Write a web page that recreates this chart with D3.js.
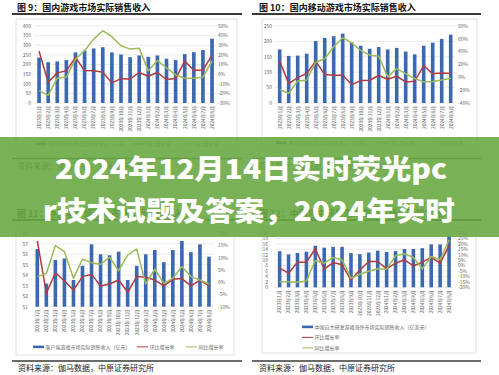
<!DOCTYPE html>
<html>
<head>
<meta charset="utf-8">
<script src="https://cdn.jsdelivr.net/npm/d3@7"></script>
<style>
  body { margin: 0; background: #fff; }
  svg { display: block; }
  text { font-family: "Noto Sans CJK SC", "Noto Sans", sans-serif; }
</style>
</head>
<body>
<svg id="chart" width="499" height="375"></svg>
<script>
// months on the x axis (same in all four charts)
const months = ["2023年1月","2023年2月","2023年3月","2023年4月","2023年5月","2023年6月","2023年7月","2023年8月","2023年9月","2023年10月",
  "2023年11月","2023年12月","2024年1月","2024年2月","2024年3月","2024年4月","2024年5月","2024年6月","2024年7月","2024年8月"];

// fig 9: domestic game market
const gameRev = [236,212,216,223,263,273,283,290,263,252,238,247,240,247,230,223,254,264,275,334];
const gameMoM = [23.9,-8.5,1.3,3.4,17.3,3.7,3.4,2.0,-9.1,-4.6,-5.3,1.7,-2.2,1.7,-5.7,-4.6,13.5,4.1,4.1,19.7];
const gameYoY = [-17.1,-22.0,-3.9,-3.2,15.6,24.3,36.4,45.1,38.9,29.5,26.0,27.0,3.4,14.2,6.5,-0.8,-4.3,-4.3,-3.2,13.5];
const gameTicksL = [0,50,100,150,200,250,300,350,400];
const gameTicksR = [-30,-20,-10,0,10,20,30,40,50];

// fig 10: mobile game market
const mobileRev = [174,153,154,160,201,211,217,225,197,186,176,182,174,179,167,158,186,196,208,222];
const mobileMoM = [25.2,-9.8,-0.4,5.9,25.2,4.3,3.3,3.3,-11.3,-5.1,-4.5,2.8,-3.0,1.7,-7.1,-6.1,18.4,5.4,6.9,5.9];
const mobileYoY = [-19.1,-24.7,-5.6,-4.5,23.6,28.9,47.6,61.8,53.8,41.9,34.6,33.0,0.7,13.7,5.9,-1.9,-7.1,-6.6,-4.0,-1.4];
const mobileTicksL = [0,50,100,150,200,250];
const mobileTicksR = [-40,-20,0,20,40,60,80];

// fig 11: client (PC) game market
const pcRev = [56.5,53.2,55.45,55.6,53.55,54.9,56.95,56.0,55.9,56.25,53.55,54.9,56.0,56.4,55.25,56.4,57.27,56.2,56.95,55.77];
const pcMoM = [16.9,-4.5,3.9,0.5,-3.2,2.3,3.2,-1.5,-0.7,0.9,-4.1,2.3,2.0,0.9,-1.5,1.2,1.5,-1.5,0.9,-1.5];
const pcYoY = [2.3,3.6,15.0,12.5,1.6,9.4,8.0,7.3,10.2,4.7,11.1,13.6,-0.7,5.3,-0.5,1.6,6.4,2.3,0.9,-0.7];
const pcTicksL = [51,52,53,54,55,56,57,58];
const pcTicksR = [-10,-5,0,5,10,15,20];

// fig 12: self-developed games overseas
const overseasRev = [13.3,12.1,12.6,13.1,15.3,14.6,14.9,14.9,12.6,12.2,12.8,13.5,13.0,13.3,14.1,14.1,14.4,15.8,15.8,19.0];
const overseasMoM = [-2.4,-7.0,3.1,3.1,15.5,-3.3,2.8,0.7,-13.2,-4.0,3.8,3.8,-3.0,2.2,5.3,-0.2,3.1,7.5,2.2,18.3];
const overseasYoY = [-14.8,-14.8,-15.4,-14.2,4.7,2.2,7.5,5.3,-11.7,-8.0,-5.2,-3.0,-3.3,9.0,10.9,7.5,-3.0,8.4,5.3,23.8];
const overseasTicksL = [0,2,4,6,8,10,12,14,16,18,20];
const overseasTicksR = [-20,-15,-10,-5,0,5,10,15,20,25,30];

const source = "资料来源：伽马数据，中原证券研究所";
const bannerLines = ["2024年12月14日实时荧光pc", "r技术试题及答案，2024年实时"];

const BLUE = "#3b68b1", RED = "#b23a3f", GREEN = "#9cbb58";

const svg = d3.select("#chart");

function pct(d) { return d + "%"; }

function drawPanel(p) {
  const g = svg.append("g");

  // figure title + underline
  g.append("text").attr("x", p.titleX).attr("y", p.titleY)
    .attr("font-size", 9).attr("font-weight", 700).attr("fill", "#111")
    .text(p.title);
  g.append("line").attr("x1", p.ruleX[0]).attr("x2", p.ruleX[1])
    .attr("y1", p.titleY + 3.5).attr("y2", p.titleY + 3.5)
    .attr("stroke", "#3a3a3a").attr("stroke-width", 1.8);

  // chart frame
  g.append("rect").attr("x", p.box[0]).attr("y", p.box[1])
    .attr("width", p.box[2] - p.box[0]).attr("height", p.box[3] - p.box[1])
    .attr("fill", "#fff").attr("stroke", "#d6d6d6").attr("stroke-width", 0.8);

  const x = d3.scaleBand().domain(months).range(p.xRange)
    .paddingInner(0.6).paddingOuter(0.3);
  const yL = d3.scaleLinear().domain(d3.extent(p.ticksL)).range([p.yBot, p.yTop]);
  const yR = d3.scaleLinear().domain(d3.extent(p.ticksR)).range([p.yBot, p.yTop]);

  // gridlines
  g.append("g").selectAll("line").data(p.ticksL).join("line")
    .attr("x1", p.xRange[0]).attr("x2", p.xRange[1])
    .attr("y1", d => yL(d)).attr("y2", d => yL(d))
    .attr("stroke", "#dedede").attr("stroke-width", 0.6);

  // bars
  g.append("g").selectAll("rect").data(p.bars).join("rect")
    .attr("x", (d, i) => x(months[i]))
    .attr("width", x.bandwidth())
    .attr("y", d => yL(d))
    .attr("height", d => yL(p.ticksL[0]) - yL(d))
    .attr("fill", BLUE);

  const line = d3.line()
    .x((d, i) => x(months[i]) + x.bandwidth() / 2)
    .y(d => yR(d));
  g.append("path").datum(p.mom).attr("d", line)
    .attr("fill", "none").attr("stroke", RED).attr("stroke-width", 1.5)
    .attr("stroke-linejoin", "round");
  g.append("path").datum(p.yoy).attr("d", line)
    .attr("fill", "none").attr("stroke", GREEN).attr("stroke-width", 1.5)
    .attr("stroke-linejoin", "round");

  // axis labels
  g.append("g").selectAll("text").data(p.ticksL).join("text")
    .attr("x", p.labelL).attr("y", d => yL(d) + 1.8)
    .attr("text-anchor", "end").attr("font-size", 5).attr("fill", "#666")
    .text(d => d);
  g.append("g").selectAll("text").data(p.ticksR).join("text")
    .attr("x", p.labelR).attr("y", d => yR(d) + 1.8)
    .attr("font-size", 5).attr("fill", "#666")
    .text(pct);

  // rotated month labels
  g.append("g").selectAll("text").data(months).join("text")
    .attr("transform", d => `translate(${x(d) + x.bandwidth() / 2 + 1.8},${p.yBot + 3}) rotate(-90)`)
    .attr("text-anchor", "end").attr("font-size", 4.8).attr("fill", "#666")
    .text(d => d);

  // legend
  const lg = g.append("g").attr("font-size", 5).attr("fill", "#666");
  p.legend.forEach(it => {
    if (it.type === "bar") {
      lg.append("rect").attr("x", it.x).attr("y", it.y - 2.4).attr("width", 11).attr("height", 2.6).attr("fill", it.color);
    } else {
      lg.append("line").attr("x1", it.x).attr("x2", it.x + 11).attr("y1", it.y - 1.1).attr("y2", it.y - 1.1)
        .attr("stroke", it.color).attr("stroke-width", 1);
    }
    lg.append("text").attr("x", it.x + 12.5).attr("y", it.y + 0.7).attr("fill", "#666").text(it.label);
  });

  // source rule + source
  g.append("line").attr("x1", p.ruleX[0]).attr("x2", p.ruleX[1])
    .attr("y1", p.srcRuleY).attr("y2", p.srcRuleY)
    .attr("stroke", "#3a3a3a").attr("stroke-width", 1.6);
  g.append("text").attr("x", p.srcX).attr("y", p.srcRuleY + 10)
    .attr("font-size", 8).attr("fill", "#222").text(source);
}

drawPanel({
  title: "图 9：国内游戏市场实际销售收入", titleX: 17, titleY: 10.5, ruleX: [12, 242],
  box: [16, 19, 237, 152], xRange: [34.5, 216.6], yTop: 26, yBot: 103,
  ticksL: gameTicksL, ticksR: gameTicksR, labelL: 31, labelR: 218,
  bars: gameRev, mom: gameMoM, yoy: gameYoY,
  legend: [
    {type: "bar", x: 36, y: 145, color: BLUE, label: "国内游戏市场实际销售收入（亿元）"},
    {type: "line", x: 133, y: 145, color: RED, label: "环比增长率"},
    {type: "line", x: 181, y: 145, color: GREEN, label: "同比增长率"}],
  srcRuleY: 158.5, srcX: 17
});

drawPanel({
  title: "图 10：国内移动游戏市场实际销售收入", titleX: 259, titleY: 10.5, ruleX: [252, 481],
  box: [262, 19, 477, 152], xRange: [275.2, 455.2], yTop: 26, yBot: 103,
  ticksL: mobileTicksL, ticksR: mobileTicksR, labelL: 272, labelR: 458,
  bars: mobileRev, mom: mobileMoM, yoy: mobileYoY,
  legend: [
    {type: "bar", x: 276, y: 144, color: BLUE, label: "移动游戏市场实际销售收入（亿元）"},
    {type: "line", x: 377, y: 144, color: RED, label: "环比增长率"},
    {type: "line", x: 426, y: 144, color: GREEN, label: "同比增长率"}],
  srcRuleY: 158.5, srcX: 258
});

drawPanel({
  title: "图 11：中国客户端游戏市场实际销售收入", titleX: 17, titleY: 216.5, ruleX: [12, 242],
  box: [16, 228, 234, 355], xRange: [32.8, 213.5], yTop: 233.3, yBot: 306.7,
  ticksL: pcTicksL, ticksR: pcTicksR, labelL: 28, labelR: 218,
  bars: pcRev, mom: pcMoM, yoy: pcYoY,
  legend: [
    {type: "bar", x: 33, y: 348, color: BLUE, label: "客户端游戏市场实际销售收入（亿元）"},
    {type: "line", x: 137, y: 348, color: RED, label: "环比增长率"},
    {type: "line", x: 186, y: 348, color: GREEN, label: "同比增长率"}],
  srcRuleY: 361, srcX: 18
});

drawPanel({
  title: "图 12：中国自主研发游戏海外市场实际销售收入", titleX: 259, titleY: 216.5, ruleX: [252, 481],
  box: [262, 228, 476, 353], xRange: [275.2, 453.5], yTop: 233, yBot: 287.3,
  ticksL: overseasTicksL, ticksR: overseasTicksR, labelL: 268, labelR: 458,
  bars: overseasRev, mom: overseasMoM, yoy: overseasYoY,
  legend: [
    {type: "bar", x: 302, y: 328, color: BLUE, label: "中国自主研发游戏海外市场实际销售收入（亿美元）"},
    {type: "line", x: 302, y: 338.5, color: RED, label: "环比增长率"},
    {type: "line", x: 302, y: 349, color: GREEN, label: "同比增长率"}],
  srcRuleY: 361, srcX: 259
});

// green banner with the headline
svg.append("rect").attr("x", 0).attr("y", 137).attr("width", 499).attr("height", 100)
  .attr("fill", "rgb(106,170,68)").attr("opacity", 0.9);

const bannerWidths = [392, 412];
const bannerCenters = [251, 249];
svg.append("g").selectAll("text").data(bannerLines).join("text")
  .attr("x", (d, i) => bannerCenters[i]).attr("y", (d, i) => 179 + i * 42)
  .attr("text-anchor", "middle").attr("font-size", 27).attr("font-weight", 900)
  .attr("textLength", (d, i) => bannerWidths[i]).attr("lengthAdjust", "spacingAndGlyphs")
  .attr("fill", "#fff")
  .text(d => d);
</script>
</body>
</html>
